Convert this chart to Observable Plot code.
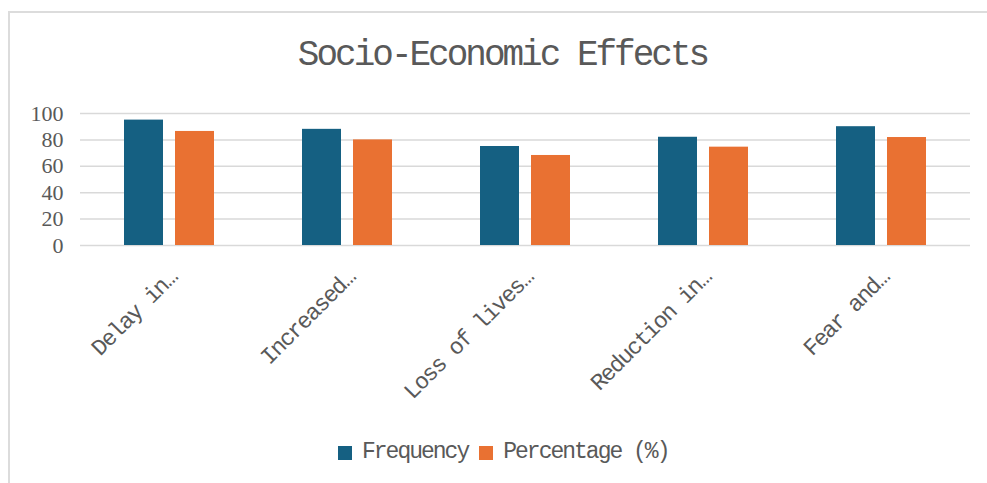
<!DOCTYPE html>
<html><head><meta charset="utf-8">
<script src="https://cdn.jsdelivr.net/npm/d3@7"></script>
<script src="https://cdn.jsdelivr.net/npm/@observablehq/plot@0.6"></script>
<style>
body{margin:0;background:#fff;}
#wrap{position:relative;width:987px;height:483px;overflow:hidden;font-family:"Liberation Mono",monospace;color:#595959;}
#frame{position:absolute;left:8px;top:11px;width:1100px;height:600px;border-left:2px solid #dcdcdc;border-top:2px solid #dcdcdc;}
#title{position:absolute;left:0;width:1005px;top:38px;text-align:center;font-size:36px;line-height:36px;letter-spacing:-3px;}
#chart{position:absolute;left:0;top:0;}
#legend{position:absolute;top:441px;left:338px;font-size:23px;line-height:23px;letter-spacing:-2px;display:flex;align-items:center;white-space:nowrap;}
.sw{display:inline-block;width:14px;height:14px;margin-right:10px;}
#chart g[aria-label="text"] text{letter-spacing:-1.5px;}
</style>
</head><body>
<div id="wrap">
  <div id="frame"></div>
  <div id="chart"></div>
  <div id="title">Socio-Economic Effects</div>
  <div id="legend"></div>
</div>
<script>
const categories = ["Delay in…","Increased…","Loss of lives…","Reduction in…","Fear and…"];
const series = ["Frequency","Percentage (%)"];
const frequency = [95, 88, 75, 82, 90];
const percentage = [86.4, 80, 68.2, 74.5, 81.8];
const yTicks = [0, 20, 40, 60, 80, 100];
const colors = ["#156082", "#E97132"];

const data = categories.flatMap((c, i) => [
  {category: c, series: series[0], value: frequency[i]},
  {category: c, series: series[1], value: percentage[i]}
]);

const plot = Plot.plot({
  width: 987, height: 420,
  marginLeft: 80, marginRight: 17, marginTop: 113, marginBottom: 175,
  style: {fontFamily: '"Liberation Mono", monospace', color: "#595959", background: "transparent", overflow: "visible"},
  fx: {domain: categories, padding: 0, axis: null},
  x: {domain: series, paddingInner: 0.2308, paddingOuter: 0.827, axis: null},
  y: {domain: [0, 100], axis: null},
  color: {domain: series, range: colors},
  marks: [
    Plot.ruleY(yTicks, {stroke: "#d9d9d9", strokeWidth: 1.5}),
    Plot.barY(data, {fx: "category", x: "series", y: "value", fill: "series"}),
    Plot.axisY(yTicks, {anchor: "left", label: null, tickSize: 0, tickPadding: 17, fontSize: 22, fontFamily: "Liberation Serif"}),
    Plot.text(categories, {fx: d => d, text: d => d, frameAnchor: "bottom", rotate: -45, textAnchor: "end", lineAnchor: "bottom", dx: 9, dy: 33, fontSize: 23})
  ]
});
document.getElementById("chart").appendChild(plot);

const legend = document.getElementById("legend");
series.forEach((s, i) => {
  const sw = document.createElement("span");
  sw.className = "sw";
  sw.style.background = colors[i];
  const t = document.createElement("span");
  t.textContent = s;
  t.style.marginRight = i === 0 ? "11px" : "0";
  legend.appendChild(sw);
  legend.appendChild(t);
});
</script>
</body></html>
